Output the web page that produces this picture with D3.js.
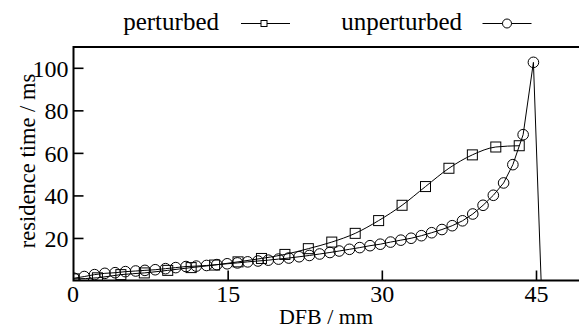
<!DOCTYPE html>
<html>
<head>
<meta charset="utf-8">
<script src="https://cdn.jsdelivr.net/npm/d3@7"></script>
<style>
    body { margin: 0; background: #fff; }
    svg text { font-family: "Liberation Serif", serif; fill: #000; }
</style>
</head>
<body>
<div id="chart"></div>
<script>

// x positions (mm) and values (ms)
let unpertX = [0.0, 1.0, 2.0, 3.0, 4.0, 5.0, 6.0, 6.9, 7.9, 8.9, 9.9, 10.9, 11.9, 12.9, 13.9, 14.9,
    15.9, 16.9, 17.9, 18.9, 19.9, 20.9, 21.9, 22.9, 23.9, 24.9, 25.8, 26.8, 27.8, 28.8, 29.8,
    30.8, 31.8, 32.8, 33.8, 34.8, 35.8, 36.8, 37.8, 38.8, 39.8, 40.8, 41.8, 42.7, 43.7, 44.7];
let unpertY = [1.3, 2.1, 3.0, 3.6, 3.9, 4.4, 4.7, 5.0, 5.3, 5.8, 6.3, 6.8, 7.0, 7.3, 7.7, 8.1,
    8.5, 9.0, 9.4, 9.8, 10.3, 10.8, 11.4, 12.0, 12.7, 13.4, 14.1, 14.9, 15.7, 16.6, 17.3,
    18.3, 19.2, 20.1, 21.3, 22.7, 24.2, 26.0, 28.3, 31.5, 35.6, 40.3, 46.1, 54.7, 68.8, 102.8];
// the unperturbed line drops back to zero after the last marker
let unpertTailX = [45.45];
let unpertTailY = [0];

let pertX = [0.0, 2.28, 4.56, 6.84, 9.12, 11.4, 13.68, 15.96, 18.24, 20.52, 22.8, 25.08,
    27.36, 29.64, 31.92, 34.2, 36.48, 38.76, 41.04, 43.32];
let pertY = [1.0, 1.5, 3.0, 3.8, 5.0, 6.3, 7.5, 9.0, 10.6, 12.5, 15.2, 18.3,
    22.4, 28.4, 35.6, 44.4, 53.0, 59.3, 63.0, 63.6];

let xTicks = [0, 15, 30, 45];
let yTicks = [20, 40, 60, 80, 100];
let legendNames = ["perturbed", "unperturbed"];

let width = 579, height = 329;

let svg = d3.select("#chart").append("svg")
    .attr("width", width)
    .attr("height", height);

//scales
let xScale = d3.scaleLinear()
    .domain([0, 45])
    .range([74, 536.5]);
let yScale = d3.scaleLinear()
    .domain([0, 100])
    .range([281, 68.3]);

let plotLeft = 73.5, plotTop = 47, plotBottom = 280.5;

//clip area for the data
svg.append("clipPath")
    .attr("id", "plotClip")
    .append("rect")
    .attr("x", plotLeft)
    .attr("y", plotTop)
    .attr("width", width - plotLeft)
    .attr("height", plotBottom - plotTop);

//y ticks (inward)
svg.append("g")
    .selectAll("line")
    .data(yTicks)
    .enter()
    .append("line")
    .attr("x1", plotLeft)
    .attr("x2", plotLeft + 10)
    .attr("y1", d => yScale(d))
    .attr("y2", d => yScale(d))
    .attr("stroke", "#000")
    .attr("stroke-width", 1.6);

svg.append("g")
    .selectAll("text")
    .data(yTicks)
    .enter()
    .append("text")
    .attr("x", 68.5)
    .attr("y", d => yScale(d))
    .attr("dy", "0.35em")
    .attr("text-anchor", "end")
    .style("font-size", "24px")
    .text(d => d);

//x ticks (inward)
svg.append("g")
    .selectAll("line")
    .data(xTicks.filter(d => d > 0))
    .enter()
    .append("line")
    .attr("x1", d => xScale(d))
    .attr("x2", d => xScale(d))
    .attr("y1", plotBottom)
    .attr("y2", plotBottom - 10)
    .attr("stroke", "#000")
    .attr("stroke-width", 1.6);

svg.append("g")
    .selectAll("text")
    .data(xTicks)
    .enter()
    .append("text")
    .attr("x", d => xScale(d) - (d == 0 ? 1 : 0))
    .attr("y", 302)
    .attr("text-anchor", "middle")
    .style("font-size", "24px")
    .text(d => d);

//axis labels
svg.append("text")
    .attr("text-anchor", "middle")
    .attr("x", 326)
    .attr("y", 324)
    .style("font-size", "22px")
    .text("DFB / mm");

svg.append("text")
    .attr("text-anchor", "middle")
    .attr("transform", "translate(35,161) rotate(-90)")
    .style("font-size", "22.5px")
    .text("residence time / ms");

//lines
let pertData = pertX.map((x, i) => ({x: x, y: pertY[i]}));
let unpertData = unpertX.map((x, i) => ({x: x, y: unpertY[i]}));
let unpertLine = unpertData.concat(unpertTailX.map((x, i) => ({x: x, y: unpertTailY[i]})));

let plot = svg.append("g").attr("clip-path", "url(#plotClip)");

plot.append("path")
    .datum(pertData)
    .attr("fill", "none")
    .attr("stroke", "#000")
    .attr("stroke-width", 1)
    .attr("d", d3.line()
        .x(d => xScale(d.x))
        .y(d => yScale(d.y))
        .curve(d3.curveMonotoneX));

plot.append("path")
    .datum(unpertLine)
    .attr("fill", "none")
    .attr("stroke", "#000")
    .attr("stroke-width", 1)
    .attr("d", d3.line()
        .x(d => xScale(d.x))
        .y(d => yScale(d.y)));

//markers
plot.append("g")
    .selectAll("rect")
    .data(pertData)
    .enter()
    .append("rect")
    .attr("x", d => xScale(d.x) - 5)
    .attr("y", d => yScale(d.y) - 5)
    .attr("width", 10)
    .attr("height", 10)
    .attr("fill", "none")
    .attr("stroke", "#000")
    .attr("stroke-width", 1);

plot.append("g")
    .selectAll("circle")
    .data(unpertData)
    .enter()
    .append("circle")
    .attr("cx", d => xScale(d.x))
    .attr("cy", d => yScale(d.y))
    .attr("r", 5.3)
    .attr("fill", "none")
    .attr("stroke", "#000")
    .attr("stroke-width", 1);

//frame: left, top, bottom
svg.append("path")
    .attr("d", `M${width},${plotTop}H${plotLeft}V${plotBottom}H${width}`)
    .attr("fill", "none")
    .attr("stroke", "#000")
    .attr("stroke-width", 2);

//legend
let legend = svg.append("g");
let legendText = [{name: legendNames[0], x: 219, lx: 241}, {name: legendNames[1], x: 462, lx: 482.5}];

legend.selectAll("text")
    .data(legendText)
    .enter()
    .append("text")
    .attr("x", d => d.x)
    .attr("y", 30)
    .attr("text-anchor", "end")
    .style("font-size", "25px")
    .text(d => d.name);

legend.selectAll("line")
    .data(legendText)
    .enter()
    .append("line")
    .attr("x1", d => d.lx)
    .attr("x2", d => d.lx + 49)
    .attr("y1", 23.5)
    .attr("y2", 23.5)
    .attr("stroke", "#000")
    .attr("stroke-width", 1);

legend.append("rect")
    .attr("x", 264 - 3)
    .attr("y", 23.5 - 3)
    .attr("width", 6)
    .attr("height", 6)
    .attr("fill", "#fff")
    .attr("stroke", "#000")
    .attr("stroke-width", 1);

legend.append("circle")
    .attr("cx", 507)
    .attr("cy", 23.5)
    .attr("r", 4.5)
    .attr("fill", "#fff")
    .attr("stroke", "#000")
    .attr("stroke-width", 1);

</script>
</body>
</html>
